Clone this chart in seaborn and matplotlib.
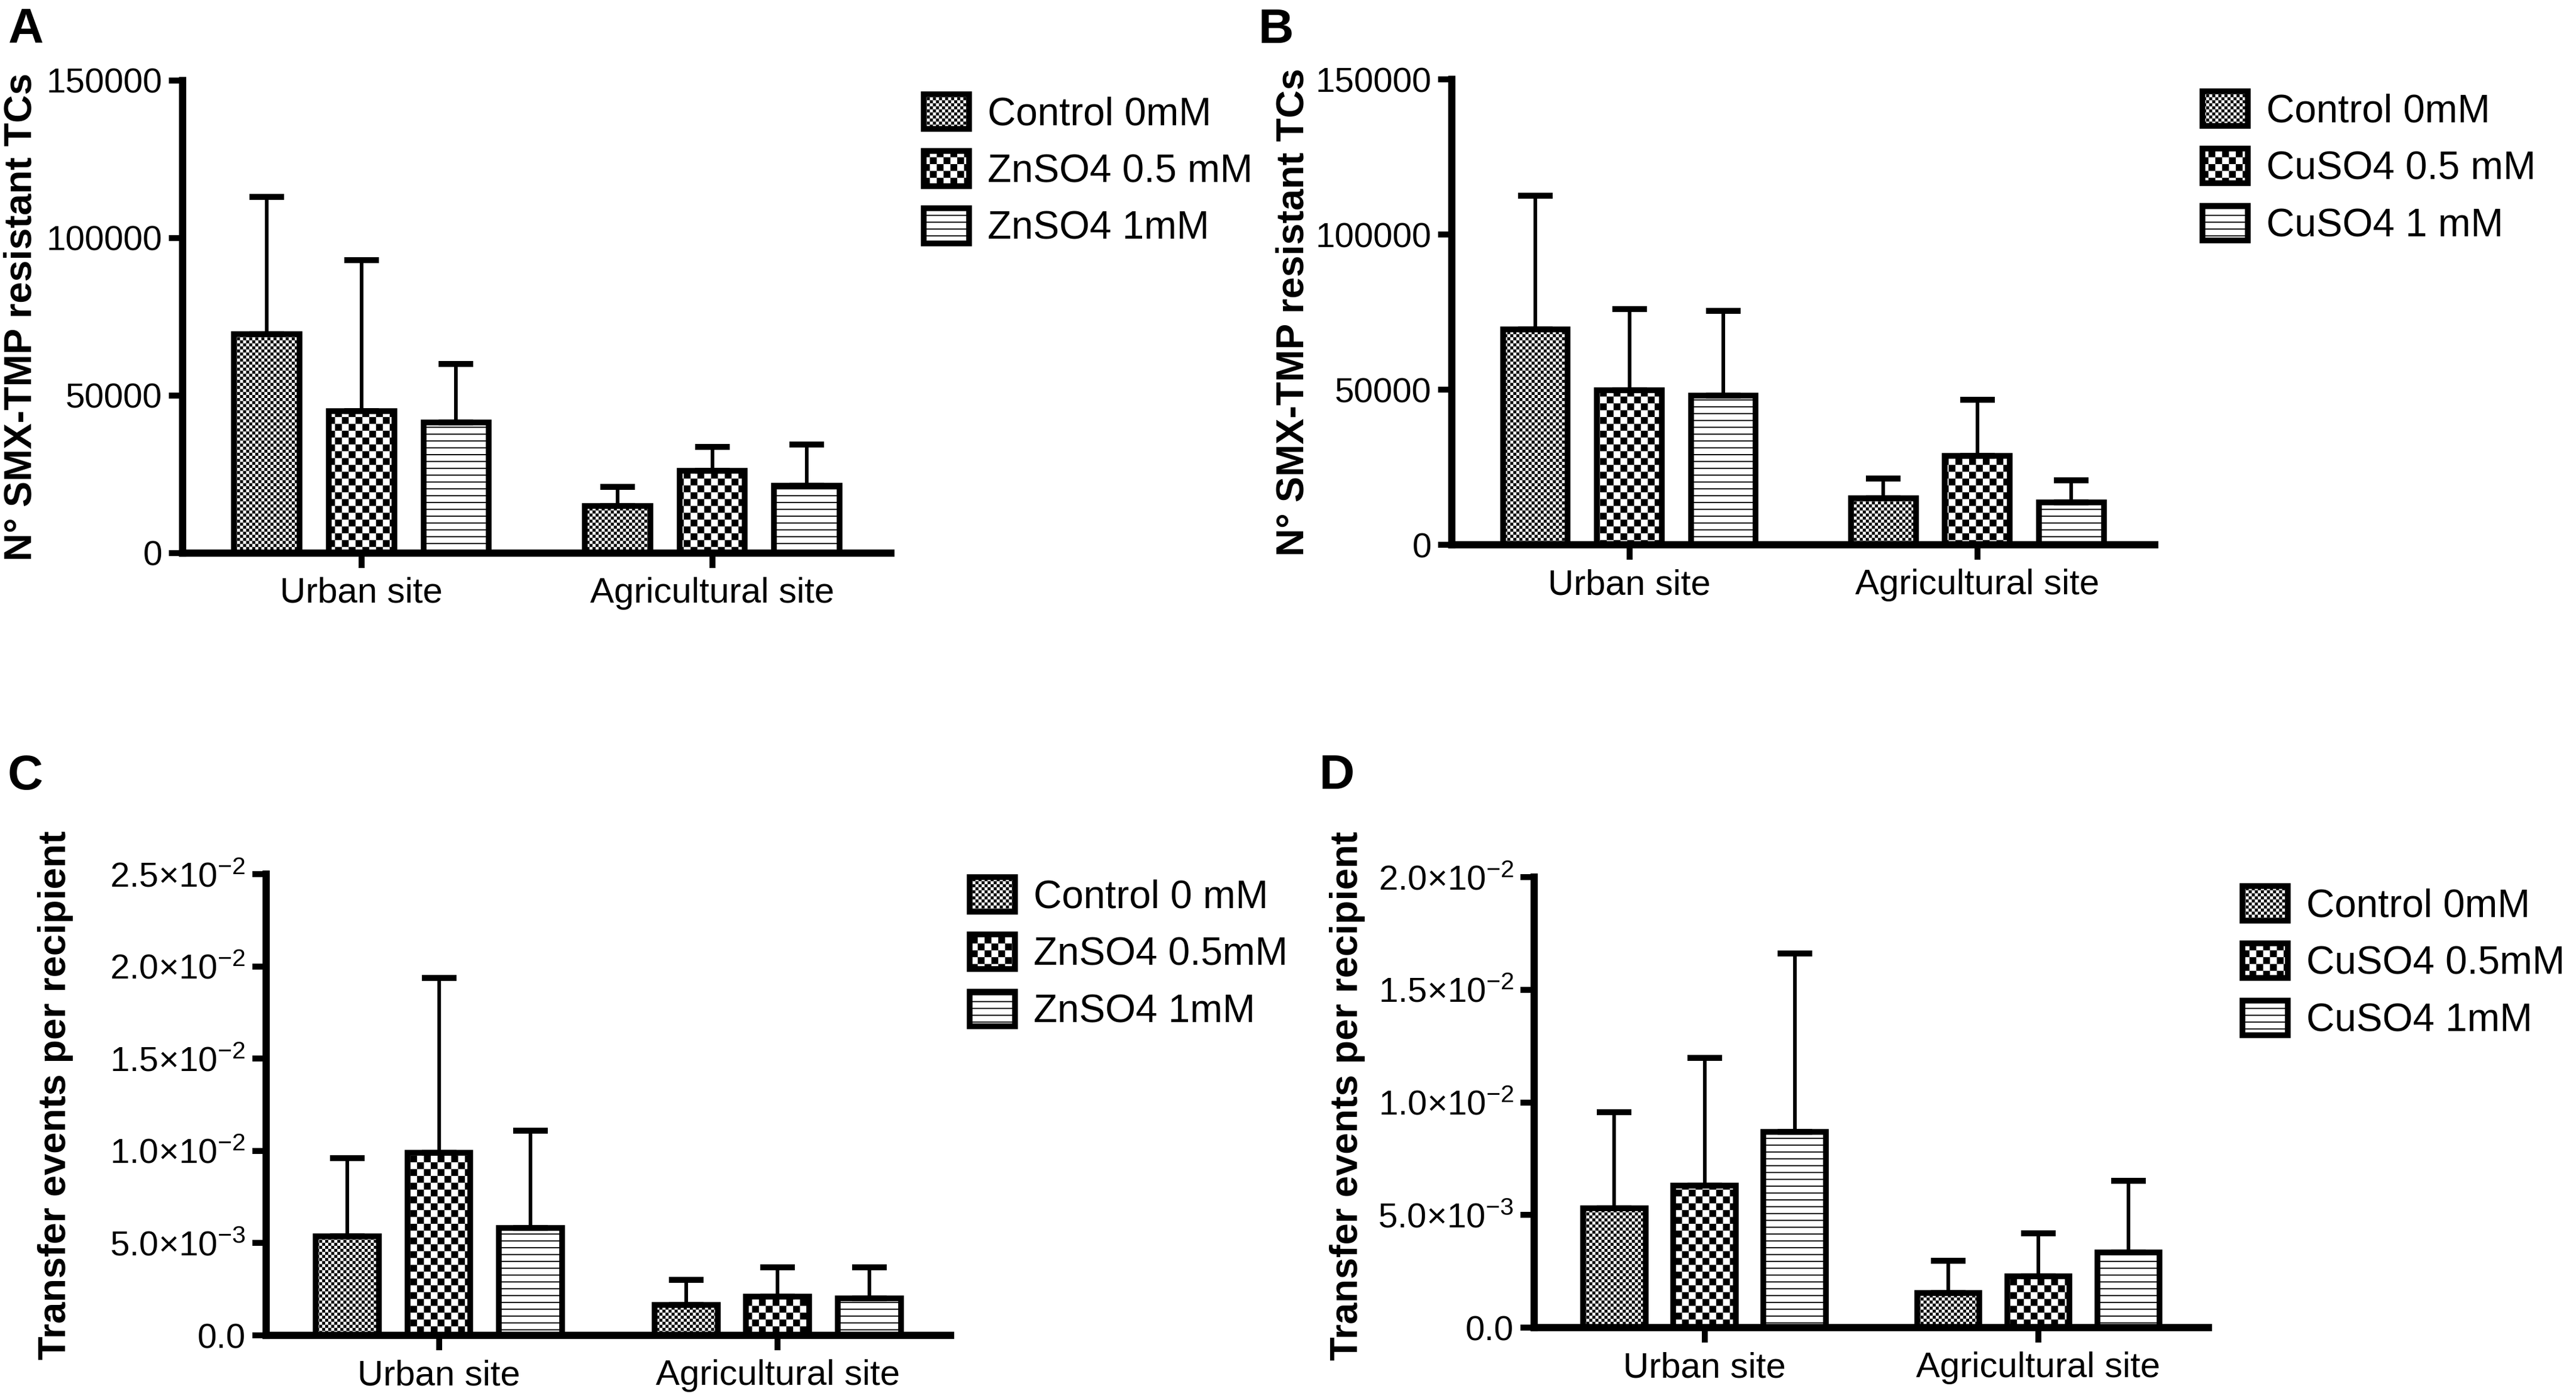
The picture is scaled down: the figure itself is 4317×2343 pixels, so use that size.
import warnings

import matplotlib
matplotlib.use("Agg")
import matplotlib.hatch as mhatch
import matplotlib.pyplot as plt
import matplotlib.ticker as mticker
import numpy as np
import pandas as pd
import seaborn as sns
from matplotlib import font_manager
from matplotlib.path import Path

warnings.filterwarnings("ignore", message=".*hatch must consist.*")

sites = ["Urban site", "Agricultural site"]

# rows: control, 0.5 mM, 1 mM ; columns: urban, agricultural
a_labels = ["Control 0mM", "ZnSO4 0.5 mM", "ZnSO4 1mM"]
a_mean = [[69400, 15000], [45000, 26100], [41400, 21400]]
a_sd = [[43600, 6000], [48000, 7650], [18600, 13000]]

b_labels = ["Control 0mM", "CuSO4 0.5 mM", "CuSO4 1 mM"]
b_mean = [[69400, 15100], [49800, 28700], [48000, 13600]]
b_sd = [[43200, 6200], [26100, 18100], [27400, 7200]]

c_labels = ["Control 0 mM", "ZnSO4 0.5mM", "ZnSO4 1mM"]
c_mean = [[5.38e-3, 1.66e-3], [9.90e-3, 2.09e-3], [5.81e-3, 2.02e-3]]
c_sd = [[4.24e-3, 1.35e-3], [9.46e-3, 1.61e-3], [5.27e-3, 1.68e-3]]

d_labels = ["Control 0mM", "CuSO4 0.5mM", "CuSO4 1mM"]
d_mean = [[5.29e-3, 1.53e-3], [6.31e-3, 2.29e-3], [8.69e-3, 3.35e-3]]
d_sd = [[4.28e-3, 1.43e-3], [5.67e-3, 1.89e-3], [7.93e-3, 3.17e-3]]

count_ticks = [0, 50000, 100000, 150000]
c_ticks = [0, 0.005, 0.01, 0.015, 0.02, 0.025]
d_ticks = [0, 0.005, 0.01, 0.015, 0.02]

smx_label = "N° SMX-TMP resistant TCs"
transfer_label = "Transfer events per recipient"

# fine checker, coarse checker, horizontal lines
hatches = ["kkkkkkkkk", "kkkk", "----"]


class CheckerHatch(mhatch.HatchPatternBase):
    """Filled checkerboard squares, one 'k' = density cells per inch."""

    def __init__(self, hatch, density):
        self.n = hatch.count("k") * int(density)
        self.num_vertices = (self.n * self.n // 2) * 5

    def set_vertices_and_codes(self, vertices, codes):
        step = 1.0 / self.n
        pad = plt.rcParams["hatch.linewidth"] / 72 / 2
        i, j = np.meshgrid(np.arange(self.n), np.arange(self.n))
        keep = (i + j) % 2 == 0
        x0 = i[keep] * step + pad
        y0 = j[keep] * step + pad
        x1 = x0 + step - 2 * pad
        y1 = y0 + step - 2 * pad
        sq = np.stack([np.c_[x0, y0], np.c_[x1, y0], np.c_[x1, y1],
                       np.c_[x0, y1], np.c_[x0, y0]], axis=1)
        vertices[:] = sq.reshape(-1, 2)
        codes[:] = np.tile([Path.MOVETO, Path.LINETO, Path.LINETO,
                            Path.LINETO, Path.CLOSEPOLY], len(x0))


mhatch._hatch_types.append(CheckerHatch)

installed = {f.name for f in font_manager.fontManager.ttflist}
narrow = next((f for f in ["Liberation Sans Narrow", "Arial Narrow"]
               if f in installed), None)
base_font = narrow or "Liberation Sans"
shrink = 1.0 if narrow else 0.85

sns.set_style("ticks", {"axes.edgecolor": "black", "xtick.color": "black",
                        "ytick.color": "black", "text.color": "black",
                        "axes.labelcolor": "black"})
plt.rcParams["font.family"] = [base_font, "DejaVu Sans"]
plt.rcParams["hatch.linewidth"] = 0.5
plt.rcParams["hatch.color"] = "black"


def sci_label(v, pos):
    if v == 0:
        return "0.0"
    exp = int(np.floor(np.log10(v) + 1e-9))
    mant = v / 10 ** exp
    return rf"$\mathregular{{{mant:.1f}×10^{{{exp}}}}}$"


def draw_panel(ax, labels, means, sds, ticks, ylabel, label_xy, sci):
    df = pd.DataFrame({
        "site": sites * len(labels),
        "treatment": [lab for lab in labels for _ in sites],
        "value": [v for row in means for v in row],
    })
    sns.barplot(data=df, x="site", y="value", hue="treatment",
                order=sites, hue_order=labels, palette=["white"] * 3,
                saturation=1, width=0.81, gap=0.31, errorbar=None,
                edgecolor="black", linewidth=2.5, legend=False, ax=ax)
    bars = list(ax.containers)
    for cont, hatch, sd in zip(bars, hatches, sds):
        for patch in cont.patches:
            patch.set_hatch(hatch)
        xs = [p.get_x() + p.get_width() / 2 for p in cont.patches]
        ys = [p.get_height() for p in cont.patches]
        ax.errorbar(xs, ys, yerr=[np.zeros(len(sd)), sd], fmt="none",
                    ecolor="black", elinewidth=1.6, capsize=7.5,
                    capthick=2.6, zorder=3)

    ax.set_xlim(-0.51, 1.51)
    ax.set_ylim(0, ticks[-1])
    ax.set_yticks(ticks)
    if sci:
        ax.yaxis.set_major_formatter(mticker.FuncFormatter(sci_label))
    else:
        ax.yaxis.set_major_formatter(mticker.FuncFormatter(lambda v, p: f"{v:.0f}"))
    ax.set_xlabel("")
    ax.set_ylabel(ylabel, fontsize=17, fontweight="bold",
                  family=["Liberation Sans", "DejaVu Sans"])
    ax.yaxis.label.set_va("center")
    ax.yaxis.set_label_coords(*label_xy)

    sns.despine(ax=ax)
    for side in ["left", "bottom"]:
        ax.spines[side].set_linewidth(3.2)
    ax.tick_params(axis="y", length=6, width=2.6, pad=3,
                   labelsize=18 * shrink)
    ax.tick_params(axis="x", length=6.5, width=2.6, pad=4,
                   labelsize=18.5 * shrink)
    return bars


fig = plt.figure(figsize=(4317 / 275, 2343 / 275), dpi=275)

panels = [
    ("A", [0.0709, 0.6044, 0.275, 0.338], a_labels, a_mean, a_sd,
     count_ticks, smx_label, (-0.2275, 0.5), False,
     (0.0032, 0.9697), (0.3586, 0.9327)),
    ("B", [0.5636, 0.6103, 0.2729, 0.3329], b_labels, b_mean, b_sd,
     count_ticks, smx_label, (-0.225, 0.5), False,
     (0.4885, 0.9693), (0.855, 0.9347)),
    ("C", [0.1033, 0.0448, 0.2657, 0.3299], c_labels, c_mean, c_sd,
     c_ticks, transfer_label, (-0.3077, 0.52), True,
     (0.003, 0.4353), (0.3764, 0.3726)),
    ("D", [0.5956, 0.0503, 0.2618, 0.3222], d_labels, d_mean, d_sd,
     d_ticks, transfer_label, (-0.277, 0.515), True,
     (0.512, 0.4358), (0.8705, 0.3662)),
]

legend_size = 20 * shrink * 1.01

for letter, rect, labels, means, sds, ticks, ylabel, lab_xy, sci, letter_xy, leg_xy in panels:
    ax = fig.add_axes(rect)
    bars = draw_panel(ax, labels, means, sds, ticks, ylabel, lab_xy, sci)
    ax.legend([c.patches[0] for c in bars], labels, loc="upper left",
              bbox_to_anchor=leg_xy, bbox_transform=fig.transFigure,
              frameon=False, fontsize=legend_size,
              handlelength=20 / legend_size, handleheight=17 / legend_size,
              handletextpad=0.47, labelspacing=0.46,
              borderpad=0, borderaxespad=0)
    fig.text(letter_xy[0], letter_xy[1], letter, fontsize=21.5,
             fontweight="bold", family=["Liberation Sans", "DejaVu Sans"],
             ha="left", va="baseline")

fig.savefig("out.png", dpi=275)
